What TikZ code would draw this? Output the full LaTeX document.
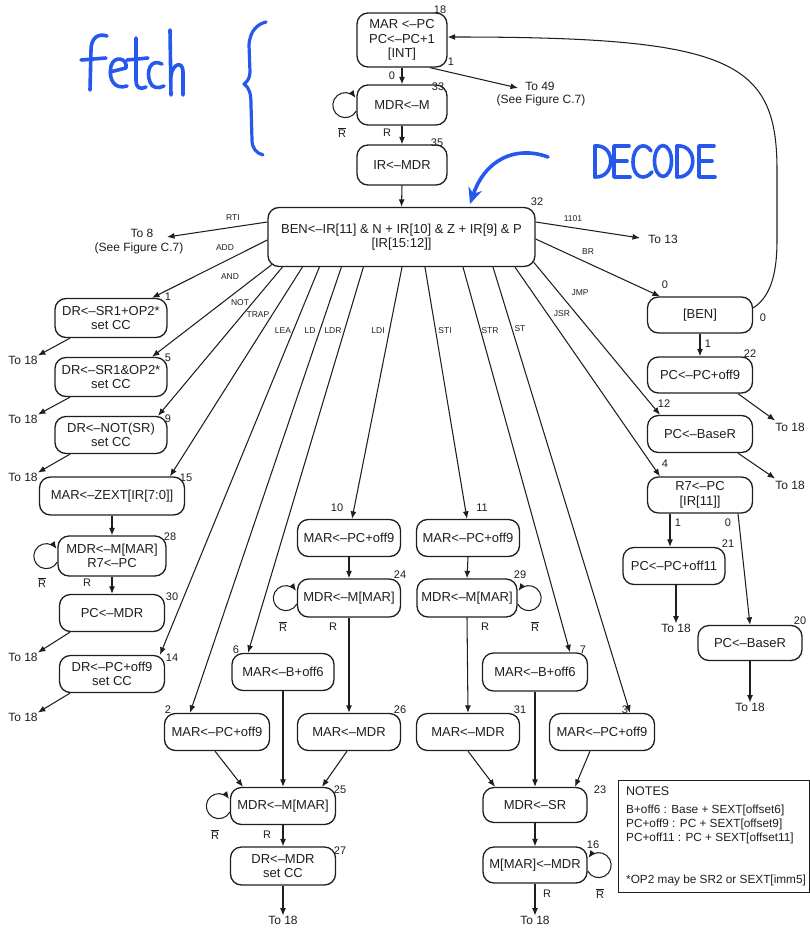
\documentclass[tikz,border=0pt]{standalone}
\usepackage{fontspec}
\setmainfont{Liberation Sans}
\usetikzlibrary{arrows.meta,calc}
\definecolor{ink}{RGB}{30,30,30}
\definecolor{pen}{RGB}{38,88,238}

\newcommand{\notR}{{\setbox0\hbox{R}\rlap{\rule[\dimexpr\ht0+1.6pt\relax]{\wd0}{0.8pt}}R}}

\tikzset{
  stt/.style={draw=ink, line width=1.3pt, rounded corners=11pt, align=center,
    inner sep=1pt, text=ink, font=\fontsize{13}{14.5}\selectfont},
  sz/.style n args={2}{minimum width=#1pt, minimum height=#2pt},
  arr/.style={draw=ink, line width=1.05pt, -{Latex[length=7.5pt,width=6pt]}},
  num/.style={font=\fontsize{11}{12}\selectfont, inner sep=0pt, text=ink},
  cond/.style={font=\fontsize{8.5}{9}\selectfont, inner sep=0pt, text=ink},
  dest/.style={font=\fontsize{12}{13}\selectfont, inner sep=0pt, text=ink},
  hand/.style={draw=pen, line width=3.6pt, line cap=round, line join=round},
}

\begin{document}
\begin{tikzpicture}[x=1pt,y=-1pt]
\useasboundingbox (0,0) rectangle (810,928);

% ---------------- fetch / decode states ----------------
\node[stt,sz={90}{54}] (s18) at (402,40) {MAR <--PC\\PC<--PC+1\\{}[INT]};
\node[stt,sz={90}{40}] (s33) at (402,105) {MDR<--M};
\node[stt,sz={90}{40}] (s35) at (402,165) {IR<--MDR};
\node[stt,sz={267}{59}] (s32) at (401.5,237) {BEN<--IR[11] \& N + IR[10] \& Z + IR[9] \& P\\{}[IR[15:12]]};

% ---------------- left column ----------------
\node[stt,sz={112}{39}] (s1) at (111,318) {DR<--SR1+OP2*\\set CC};
\node[stt,sz={112}{39}] (s5) at (111,377) {DR<--SR1\&OP2*\\set CC};
\node[stt,sz={112}{37}] (s9) at (111,435) {DR<--NOT(SR)\\set CC};
\node[stt,sz={145}{38}] (s15) at (112,496) {MAR<--ZEXT[IR[7:0]]};
\node[stt,sz={108}{40}] (s28) at (112,556) {MDR<--M[MAR]\\R7<--PC};
\node[stt,sz={105}{37}] (s30) at (112,613) {PC<--MDR};
\node[stt,sz={105}{37}] (s14) at (112,674) {DR<--PC+off9\\set CC};

% ---------------- memory access states ----------------
\node[stt,sz={103}{37}] (s10) at (349,538) {MAR<--PC+off9};
\node[stt,sz={103}{37}] (s11) at (468,538) {MAR<--PC+off9};
\node[stt,sz={103}{38}] (s24) at (349,598) {MDR<--M[MAR]};
\node[stt,sz={100}{38}] (s29) at (467,598) {MDR<--M[MAR]};
\node[stt,sz={102}{37}] (s6) at (283,672) {MAR<--B+off6};
\node[stt,sz={105}{38}] (s7) at (535,672) {MAR<--B+off6};
\node[stt,sz={105}{37}] (s2) at (217,732) {MAR<--PC+off9};
\node[stt,sz={103}{37}] (s26) at (349,732) {MAR<--MDR};
\node[stt,sz={103}{37}] (s31) at (468,732) {MAR<--MDR};
\node[stt,sz={105}{37}] (s3) at (602,732) {MAR<--PC+off9};
\node[stt,sz={105}{37}] (s25) at (283,806) {MDR<--M[MAR]};
\node[stt,sz={105}{38}] (s27) at (283,866) {DR<--MDR\\set CC};
\node[stt,sz={104}{35}] (s23) at (535,805) {MDR<--SR};
\node[stt,sz={104}{36}] (s16) at (535,865) {M[MAR]<--MDR};

% ---------------- control flow states ----------------
\node[stt,sz={105}{36}] (s0) at (700,315) {[BEN]};
\node[stt,sz={105}{36}] (s22) at (700,375) {PC<--PC+off9};
\node[stt,sz={105}{37}] (s12) at (700,434) {PC<--BaseR};
\node[stt,sz={105}{36}] (s4) at (700,495) {R7<--PC\\{}[IR[11]]};
\node[stt,sz={102}{37}] (s21) at (674,566) {PC<--PC+off11};
\node[stt,sz={104}{35}] (s20) at (750,643) {PC<--BaseR};

% ---------------- state numbers ----------------
\foreach \t/\x/\y in {18/440/10, 1/451/62, 0/392/76, 33/438/87, 35/437/143, 32/537/202,
  1/168/297, 5/168/358, 9/168/419, 15/186/478, 28/170/537, 30/172/597, 14/172/658,
  10/337/508, 11/482/508, 24/400/575, 29/520/575, 6/236/650, 7/583/650,
  2/168/710, 26/400/710, 31/520/710, 3/625/710, 25/340/790, 27/340/851,
  23/600/790, 16/593/845, 0/665/285, 0/763/318, 1/708/344, 22/750/354,
  12/664/404, 4/665/464, 1/678/523, 0/728/523, 21/728/544, 20/800/621}
  \node[num] at (\x,\y) {\t};

% ---------------- destinations ----------------
\node[dest] (t49) at (540,86) {To 49};
\node[dest] (t49b) at (541,100) {(See Figure C.7)};
\node[dest] (t8) at (142,233) {To 8};
\node[dest] (t8b) at (139,248) {(See Figure C.7)};
\node[dest] (t13) at (663,239) {To 13};
\node[dest] (ta1) at (23,360) {To 18};
\node[dest] (ta5) at (23,419) {To 18};
\node[dest] (ta9) at (23,477) {To 18};
\node[dest] (ta30) at (23,657) {To 18};
\node[dest] (ta14) at (23,717) {To 18};
\node[dest] (ta22) at (790,427) {To 18};
\node[dest] (ta12) at (790,485) {To 18};
\node[dest] (ta21) at (676,628) {To 18};
\node[dest] (ta20) at (750,707) {To 18};
\node[dest] (ta27) at (283,920) {To 18};
\node[dest] (ta16) at (535,920) {To 18};

\coordinate (e49) at (518,88);
\coordinate (e8) at (167,237);
\coordinate (e13) at (640,238);

% ---------------- fetch / decode transitions ----------------
\draw[arr] (s18.south) -- (s33.north);
\draw[arr] (s33.south) -- (s35.north);
\draw[arr] (s35.south) -- (s32.north);
\draw[arr] ($(s18.south)+(28,0)$) -- (e49);
\draw[arr] ($(s33.west)+(0,6)$) arc[start angle=28,end angle=325,radius=12.5];
\node[num] at (342,133) {\notR};
\node[num] at (387,133) {R};

% ---------------- opcode dispatch ----------------
\draw[arr] ($(s32.west)+(0,-15)$) -- (e8);
\draw[arr] ($(s32.east)+(0,-15)$) -- (e13);
\draw[arr] ($(s32.west)+(0,3)$) -- ($(s1.north)+(41,0)$);
\draw[arr] ($(s32.south west)+(5,-3)$) -- ($(s5.north)+(41,0)$);
\draw[arr] ($(s32.south west)+(15,0)$) -- ($(s9.north)+(47,0)$);
\draw[arr] ($(s32.south west)+(35,0)$) -- ($(s15.north)+(58,0)$);
\draw[arr] ($(s32.south west)+(52,0)$) -- ($(s14.north)+(48,0)$);
\draw[arr] ($(s32.south west)+(74,0)$) -- ($(s2.north)+(-27,0)$);
\draw[arr] ($(s32.south west)+(96,0)$) -- ($(s6.north)+(-35,0)$);
\draw[arr] ($(s32.south)+(0.5,0)$) -- ($(s10.north)+(3,0)$);
\draw[arr] ($(s32.south)+(23.5,0)$) -- ($(s11.north)+(-1,0)$);
\draw[arr] ($(s32.south)+(61.5,0)$) -- ($(s7.north)+(35,0)$);
\draw[arr] ($(s32.south)+(91.5,0)$) -- ($(s3.north)+(28,0)$);
\draw[arr] ($(s32.south)+(113.5,0)$) -- ($(s4.north)+(-40,0)$);
\draw[arr] ($(s32.south east)+(-2,-5)$) -- ($(s12.north)+(-40,0)$);
\draw[arr] ($(s32.east)+(0,2)$) -- ($(s0.north)+(-40,0)$);

\node[cond] at (233,218) {RTI};
\node[cond] at (573,219) {1101};
\node[cond] at (225,248) {ADD};
\node[cond] at (230,277) {AND};
\node[cond] at (240,303) {NOT};
\node[cond] at (258,315) {TRAP};
\node[cond] at (283,331) {LEA};
\node[cond] at (310,331) {LD};
\node[cond] at (333,331) {LDR};
\node[cond] at (378,331) {LDI};
\node[cond] at (445,331) {STI};
\node[cond] at (490,331) {STR};
\node[cond] at (520,329) {ST};
\node[cond] at (562,314) {JSR};
\node[cond] at (580,293) {JMP};
\node[cond] at (588,252) {BR};

% ---------------- operate instructions ----------------
\draw[arr] ($(s1.south)+(-41,0)$) -- (ta1.north east);
\draw[arr] ($(s5.south)+(-41,0)$) -- (ta5.north east);
\draw[arr] ($(s9.south)+(-41,0)$) -- (ta9.north east);

% ---------------- TRAP ----------------
\draw[arr] (s15.south) -- (s28.north);
\draw[arr] ($(s28.west)+(0,6)$) arc[start angle=28,end angle=325,radius=12.5];
\node[num] at (42,583) {\notR};
\node[num] at (87,583) {R};
\draw[arr] (s28.south) -- (s30.north);
\draw[arr] ($(s30.south)+(-42,0)$) -- (ta30.north east);
\draw[arr] ($(s14.south)+(-42,0)$) -- (ta14.north east);

% ---------------- loads ----------------
\draw[arr] (s10.south) -- (s24.north);
\draw[arr] ($(s24.west)+(0,6)$) arc[start angle=28,end angle=325,radius=12.5];
\node[num] at (283,627) {\notR};
\node[num] at (333,627) {R};
\draw[arr] (s24.south) -- (s26.north);
\draw[arr] ($(s2.south)+(-2,0)$) -- ($(s25.north)+(-40,0)$);
\draw[arr] (s6.south) -- (s25.north);
\draw[arr] ($(s26.south)+(-2,0)$) -- ($(s25.north)+(39,0)$);
\draw[arr] ($(s25.west)+(0,6)$) arc[start angle=28,end angle=325,radius=12.5];
\node[num] at (215,835) {\notR};
\node[num] at (267,835) {R};
\draw[arr] (s25.south) -- (s27.north);
\draw[arr] (s27.south) -- (ta27.north);

% ---------------- stores ----------------
\draw[arr] (s11.south) -- (s29.north);
\draw[arr] ($(s29.east)+(0,6)$) arc[start angle=152,end angle=-145,radius=12.5];
\node[num] at (485,627) {R};
\node[num] at (535,627) {\notR};
\draw[arr] (s29.south) -- (s31.north);
\draw[arr] (s31.south) -- ($(s23.north)+(-40,0)$);
\draw[arr] (s7.south) -- (s23.north);
\draw[arr] ($(s3.south)+(-12,0)$) -- ($(s23.north)+(40,0)$);
\draw[arr] (s23.south) -- (s16.north);
\draw[arr] ($(s16.east)+(0,6)$) arc[start angle=152,end angle=-145,radius=12.5];
\node[num] at (547,894) {R};
\node[num] at (600,894) {\notR};
\draw[arr] (s16.south) -- (ta16.north);

% ---------------- branches, jumps, subroutine calls ----------------
\draw[arr] (s0.south) -- (s22.north);
\draw[arr] ($(s0.east)+(0,-7)$) .. controls (768,298) and (777,280) .. (777,240)
  -- (777,170) .. controls (777,60) and (730,37) .. ($(s18.east)+(0,-3)$);
\draw[arr] ($(s22.south)+(38,0)$) -- ($(ta22.north west)+(0,-2)$);
\draw[arr] ($(s12.south)+(38,0)$) -- ($(ta12.north west)+(0,-2)$);
\draw[arr] ($(s4.south)+(-30,0)$) -- ($(s21.north)+(-4,0)$);
\draw[arr] ($(s4.south)+(38,0)$) -- (s20.north);
\draw[arr] ($(s21.south)+(2,0)$) -- (ta21.north);
\draw[arr] (s20.south) -- (ta20.north);

% ---------------- notes ----------------
\node[draw=ink, line width=1.3pt, minimum width=191pt, minimum height=112pt,
  anchor=north west, inner sep=0pt] (notes) at (618,780) {};
\begin{scope}[every node/.style={anchor=west, inner sep=0pt, text=ink,
    font=\fontsize{11.8}{12}\selectfont}]
  \node[font=\fontsize{12.5}{13}\selectfont] at (626,791) {NOTES};
  \node at (626,810) {B+off6 : Base + SEXT[offset6]};
  \node at (626,824) {PC+off9 : PC + SEXT[offset9]};
  \node at (626,838) {PC+off11 : PC + SEXT[offset11]};
  \node at (626,880) {*OP2 may be SR2 or SEXT[imm5]};
\end{scope}

% ---------------- handwritten annotations ----------------
% fetch
\draw[hand] (90,90) -- (91,50) .. controls (91,38) and (98,33) .. (107,36);
\draw[hand] (81,60) -- (106,58);
\draw[hand] (110,72) -- (126,68) .. controls (128,58) and (114,55) .. (111,66)
  .. controls (108,80) and (115,90) .. (127,86);
\draw[hand] (136,38) -- (136,80) .. controls (136,88) and (140,90) .. (146,87);
\draw[hand] (127,60) -- (148,58);
\draw[hand] (162,64) .. controls (150,58) and (146,72) .. (150,82)
  .. controls (152,88) and (158,89) .. (164,86);
\draw[hand] (170,30) -- (171,95);
\draw[hand] (171,76) .. controls (172,64) and (183,60) .. (183,72) -- (183,95);
% brace
\draw[hand, line width=3.2pt] (266,22) .. controls (258,24) and (250,30) .. (249,45)
  -- (250,72) .. controls (250,78) and (247,82) .. (244,84)
  .. controls (250,88) and (251,95) .. (251,105) -- (252,140)
  .. controls (252,148) and (256,153) .. (263,155);
% DECODE
\draw[hand] (595,146) -- (595,177);
\draw[hand] (595,146) .. controls (616,144) and (616,178) .. (595,177);
\draw[hand] (629,146) -- (614,146) -- (614,177) -- (630,177);
\draw[hand] (614,161) -- (627,161);
\draw[hand] (651,151) .. controls (645,141) and (633,146) .. (633,162)
  .. controls (633,178) and (645,181) .. (652,172);
\draw[hand] (663,161) ellipse[x radius=8.5, y radius=15.5];
\draw[hand] (677,146) -- (677,177);
\draw[hand] (677,146) .. controls (698,144) and (698,178) .. (677,177);
\draw[hand] (714,146) -- (699,146) -- (699,177) -- (715,177);
\draw[hand] (699,161) -- (712,161);
% pointer to the decode state
\draw[hand, -{Stealth[length=16pt,width=14pt]}] (548,157)
  .. controls (515,145) and (485,160) .. (470,204);
\end{tikzpicture}
\end{document}
